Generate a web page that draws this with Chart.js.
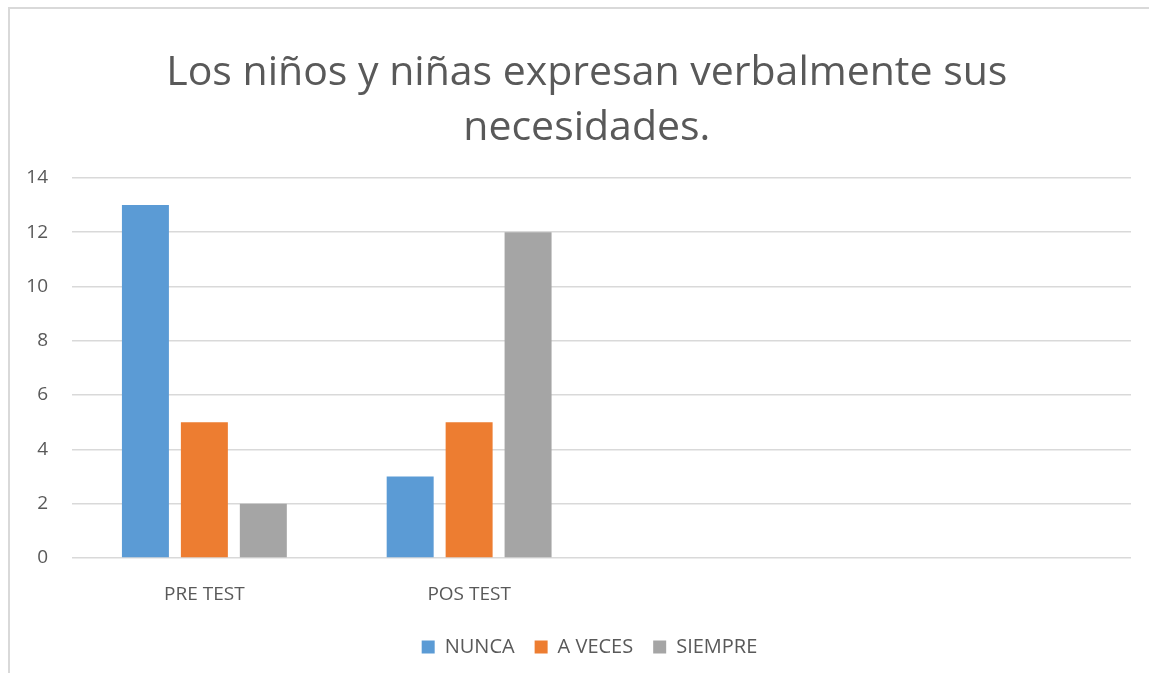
<!DOCTYPE html>
<html>
<head>
<meta charset="utf-8">
<script src="https://cdn.jsdelivr.net/npm/chart.js@4"></script>
<style>
  html, body { margin: 0; padding: 0; background: #fff; }
  #frame {
    position: absolute; left: 8px; top: 7px; right: 0; bottom: 0;
    border-left: 2px solid #d9d9d9; border-top: 2px solid #d9d9d9;
  }
  #wrap { position: absolute; left: 0; top: 0; width: 1149px; height: 673px; }
</style>
</head>
<body>
<div id="frame"></div>
<div id="wrap"><canvas id="chart"></canvas></div>
<script>
const categories = ["PRE TEST", "POS TEST", "", ""];
const nunca = [13, 3, null, null];
const aVeces = [5, 5, null, null];
const siempre = [2, 12, null, null];
const yTicks = [0, 2, 4, 6, 8, 10, 12, 14];

const textColor = "#595959";
const gridColor = "#d9d9d9";
const font = "'Open Sans', 'Liberation Sans', sans-serif";

// leading spaces nudge the centred title a bit to the right, like the original
const titleLines = ["    Los niños y niñas expresan verbalmente sus", "    necesidades."];

// legend in the original sits a little right of the canvas centre
const nudgeLegend = {
  id: "nudgeLegend",
  afterLayout(chart) {
    const lg = chart.legend;
    if (!lg) return;
    lg.left += 24;
    lg.right += 24;
  }
};

new Chart(document.getElementById("chart"), {
  type: "bar",
  data: {
    labels: categories,
    datasets: [
      { label: "NUNCA", data: nunca, backgroundColor: "#5b9bd5" },
      { label: "A VECES", data: aVeces, backgroundColor: "#ed7d31" },
      { label: "SIEMPRE", data: siempre, backgroundColor: "#a5a5a5" }
    ]
  },
  options: {
    responsive: true,
    maintainAspectRatio: false,
    animation: false,
    categoryPercentage: 0.668,
    barPercentage: 0.797,
    layout: { padding: { left: 0, right: 18, top: 0, bottom: 6 } },
    plugins: {
      title: {
        display: true,
        text: titleLines,
        color: textColor,
        font: { family: font, size: 41, weight: "normal", lineHeight: 1.34 },
        padding: { top: 46, bottom: 22 }
      },
      legend: {
        position: "bottom",
        labels: {
          color: textColor,
          font: { family: font, size: 20 },
          boxWidth: 13,
          boxHeight: 13,
          padding: 20
        }
      },
      tooltip: { enabled: false }
    },
    scales: {
      x: {
        grid: { display: false, drawTicks: false },
        border: { display: false },
        ticks: { color: textColor, font: { family: font, size: 19 }, padding: 25 },
        afterFit: s => { s.height = 59; }
      },
      y: {
        min: 0,
        max: 14,
        afterBuildTicks: s => { s.ticks = yTicks.map(v => ({ value: v })); },
        grid: { color: gridColor, lineWidth: 1.5, drawTicks: false },
        border: { display: false },
        ticks: { color: textColor, font: { family: font, size: 19 }, padding: 24 },
        afterFit: s => { s.width = 72; }
      }
    }
  },
  plugins: [nudgeLegend]
});
</script>
</body>
</html>
